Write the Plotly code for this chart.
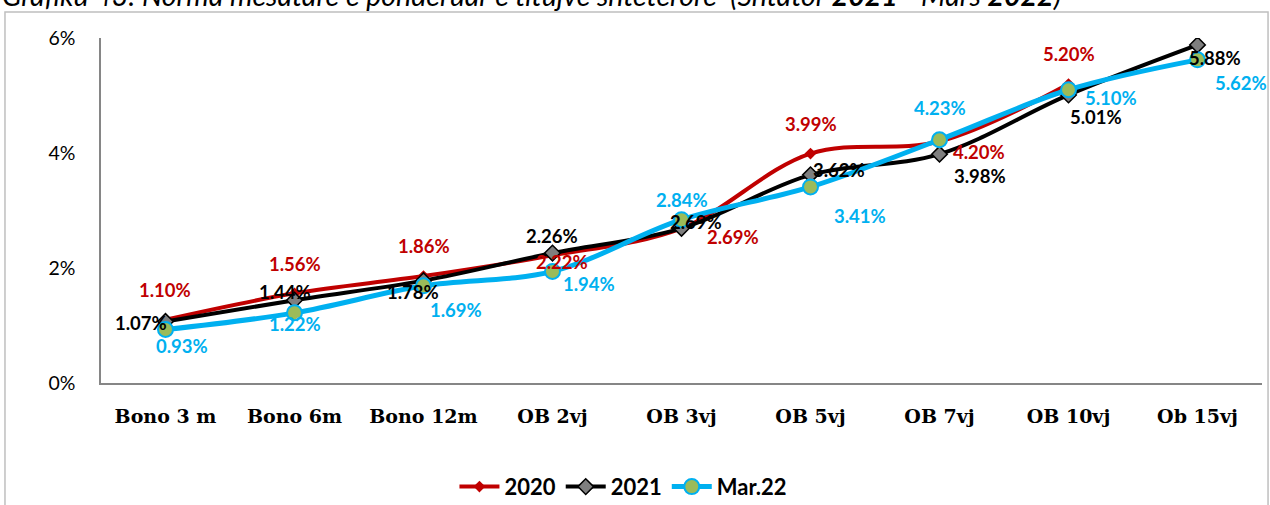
import plotly.graph_objects as go

# Maturities and weighted average yields (%)
categories = ["Bono 3 m", "Bono 6m", "Bono 12m", "OB 2vj", "OB 3vj",
              "OB 5vj", "OB 7vj", "OB 10vj", "Ob 15vj"]
y2020 = [1.10, 1.56, 1.86, 2.22, 2.69, 3.99, 4.20, 5.20, None]
y2021 = [1.07, 1.44, 1.78, 2.26, 2.69, 3.62, 3.98, 5.01, 5.88]
ymar22 = [0.93, 1.22, 1.69, 1.94, 2.84, 3.41, 4.23, 5.10, 5.62]
y_ticks = [0, 2, 4, 6]
y_tick_text = ["0%", "2%", "4%", "6%"]

# Label offsets in pixels (dx right, dy up) from each point
off2020 = [(-1, 30), (0, 29), (0, 30), (9, -7), (51, -9), (0, 30), (39, -10), (0, 30), None]
off2021 = [(-25, -2), (-10, 8), (-11, -11), (-1, 17), (14, 6), (28, 5), (40, -22), (27, -22), (17, -13)]
offmar = [(16, -16), (0, -11), (32, -24), (36, -13), (0, 20), (49, -29), (0, 32), (42, -8), (43, -23)]

RED = "#C00000"
BLACK = "#000000"
BLUE = "#00B0F0"
GREEN = "#9BBB59"
GREY = "#7F7F7F"

fig = go.Figure()
fig.add_trace(go.Scatter(
    x=categories, y=y2020, name="2020", mode="lines+markers",
    line=dict(color=RED, width=4, shape="spline", smoothing=1),
    marker=dict(symbol="diamond", size=9, color=RED),
))
fig.add_trace(go.Scatter(
    x=categories, y=y2021, name="2021", mode="lines+markers",
    line=dict(color=BLACK, width=4, shape="spline", smoothing=1),
    marker=dict(symbol="diamond", size=12, color=GREY, line=dict(color=BLACK, width=1.5)),
))
fig.add_trace(go.Scatter(
    x=categories, y=ymar22, name="Mar.22", mode="lines+markers",
    line=dict(color=BLUE, width=5, shape="spline", smoothing=1),
    marker=dict(symbol="circle", size=15, color=GREEN, line=dict(color=BLUE, width=2)),
))

label_font = "Lato"
annotations = []
for values, offsets, color in [(y2020, off2020, RED), (y2021, off2021, BLACK), (ymar22, offmar, BLUE)]:
    for cat, v, off in zip(categories, values, offsets):
        if v is None:
            continue
        annotations.append(dict(
            x=cat, y=v, text=f"{v:.2f}%", showarrow=False,
            xshift=off[0], yshift=off[1],
            font=dict(family=label_font, size=18.5, color=color, weight="bold"),
        ))

# Chart caption, running off the top edge of the page
annotations.append(dict(
    xref="paper", yref="paper", x=-0.087, y=1.124, xanchor="left", yanchor="middle",
    text="<i>Grafiku 43: Norma mesatare e ponderuar e titujve shtetërorë  (Shtator <b>2021</b> - Mars <b>2022</b>)</i>",
    showarrow=False, font=dict(family="Lato", size=28.5, color="#000000"),
))

fig.update_layout(
    width=1270, height=505,
    margin=dict(l=101, r=8, t=38, b=122, autoexpand=False),
    paper_bgcolor="white", plot_bgcolor="white",
    showlegend=True,
    legend=dict(orientation="h", x=0.45, y=0.036, yref="container",
                xanchor="center", yanchor="middle",
                font=dict(family="Lato", size=22, color="#000000", weight="bold"),
                itemwidth=40, traceorder="normal"),
    annotations=annotations,
    shapes=[dict(type="rect", xref="paper", yref="paper",
                 x0=-0.0827, x1=1.0052, y0=-0.40, y1=1.0754,
                 line=dict(color="#BFBFBF", width=1.5), fillcolor="rgba(0,0,0,0)", layer="below")],
)
fig.update_xaxes(
    showline=True, linecolor="#868686", linewidth=1.5, showgrid=False, ticks="",
    tickfont=dict(family="DejaVu Serif", size=19, color="#000000", weight="bold"),
    range=[-0.5, 8.5], ticklabelstandoff=15,
)
fig.update_yaxes(
    showline=True, linecolor="#868686", linewidth=1.5, showgrid=False, ticks="",
    tickvals=y_ticks, ticktext=y_tick_text, range=[0, 6], zeroline=False,
    tickfont=dict(family="Lato", size=19.5, color="#000000"), ticklabelstandoff=20,
)

fig.write_html("out.html")
